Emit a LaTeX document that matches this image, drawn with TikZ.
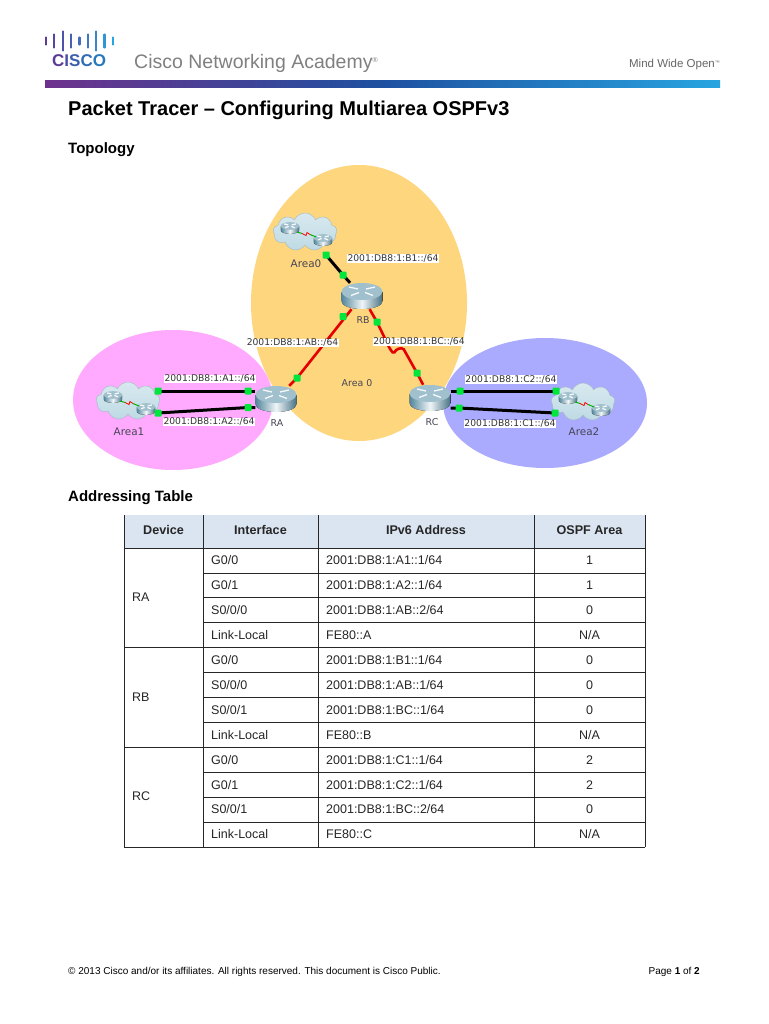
\documentclass[tikz,border=0pt]{standalone}
\usepackage{fontspec}
\setmainfont{Liberation Sans}
\newfontfamily\labelfont{DejaVu Sans}
\usetikzlibrary{shapes,positioning}
\definecolor{orange2}{RGB}{254,214,125}
\definecolor{pink2}{RGB}{255,170,254}
\definecolor{blue2}{RGB}{170,170,254}
\definecolor{head2}{RGB}{219,229,241}
\definecolor{port2}{RGB}{0,230,60}
\definecolor{cloud2}{RGB}{190,218,228}
\definecolor{label2}{RGB}{70,70,85}
\definecolor{router2}{RGB}{82,134,156}
\definecolor{routertop}{RGB}{160,192,205}
\definecolor{bar1}{RGB}{110,50,140}
\definecolor{bar2}{RGB}{30,80,160}
\definecolor{bar3}{RGB}{40,165,225}
\definecolor{logo1}{RGB}{90,60,150}
\definecolor{logo2}{RGB}{40,120,190}
\tikzset{
  port/.style={fill=port2,inner sep=0pt,minimum size=7pt,rounded corners=1pt},
  addr/.style={fill=white,inner sep=0.6pt,font=\labelfont\fontsize{9.2}{10}\selectfont,text=black!80},
  devname/.style={inner sep=0pt,font=\labelfont\fontsize{9.4}{10}\selectfont,text=label2},
  cloudname/.style={inner sep=0pt,font=\labelfont\fontsize{10.4}{11}\selectfont,text=label2},
  routernode/.style={inner sep=0pt,minimum width=41pt,minimum height=26pt},
  ethlink/.style={line width=3pt,black},
  seriallink/.style={line width=2.6pt,red!90!black,rounded corners=1.5pt},
  cell/.style={inner sep=0pt,anchor=base west,font=\fontsize{12.5}{14}\selectfont,text=black!85},
  headcell/.style={inner sep=0pt,anchor=base,font=\bfseries\fontsize{12.6}{14}\selectfont,text=black!85},
  heading/.style={inner sep=0pt,anchor=base west,font=\bfseries\fontsize{15}{17}\selectfont},
  pics/routerpic/.style={code={
    \fill[left color=router2,right color=router2!85!black,middle color=white!85!routertop]
      (-20.5,-4) -- (-20.5,5) .. controls (-20.5,10) and (-11,13) .. (0,13)
      .. controls (11,13) and (20.5,10) .. (20.5,5) -- (20.5,-4) -- cycle;
    \fill[routertop] (0,-4.5) ellipse [x radius=20.5pt,y radius=8.5pt];
    \draw[white!90!routertop,line width=1.3pt] (-13,-9) -- (-4,-7) (13,-9) -- (4,-7) (-11,-0.5) -- (-3,-3.5) (11,-0.5) -- (3,-3.5);
  }},
  pics/cloudpic/.style={code={
    \node[cloud,cloud puffs=9,cloud puff arc=130,aspect=1.7,top color=cloud2!60!white,bottom color=cloud2,draw=cloud2!85!black,inner sep=0pt,minimum width=64pt,minimum height=38pt] (-cloud) at (0,0) {};
    \pic[scale=0.45] at (-15,-4) {routerpic};
    \pic[scale=0.45] at (18,8) {routerpic};
    \draw[green!70!black,line width=1pt] (-8,0) -- (-3,1.5) (5,2.5) -- (11,5);
    \draw[red,line width=0.8pt] (-3,1.5) -- (1,3.5) -- (2,0.5) -- (5,2.5);
  }}
}

\begin{document}
\begin{tikzpicture}[x=1pt,y=-1pt]
	\newcommand \rowstart{548}
	\newcommand \rowheight{24.92}
	\newcommand \tabletop{515}
	\newcommand \tableleft{124}
	\newcommand \tableright{645}

\useasboundingbox (0,0) rectangle (768,1024);
\fill[white] (0,0) rectangle (768,1024);

%% Header:
\foreach \b/\h/\c in {0/7/0,1/13/10,2/19/22,3/13/34,4/7/46,5/13/58,6/19/70,7/13/85,8/7/100}
{
\draw[bar3!\c!logo1,line width=2.2pt,line cap=round] ({46+\b*8.35},{41-\h/2}) -- ({46+\b*8.35},{41+\h/2});
}
\node[inner sep=0pt,anchor=base west,font=\bfseries\fontsize{17}{18}\selectfont\addfontfeature{LetterSpace=8}] (ciscoword) at (52,67)
  {\textcolor{logo1}{C}\textcolor{logo1!70!logo2}{I}\textcolor{logo1!40!logo2}{S}\textcolor{logo2!80!logo1}{C}\textcolor{logo2}{O}};
\node[inner sep=0pt,anchor=base west,text=black!50,font=\fontsize{19.5}{22}\selectfont] (academy) at (134,69) {Cisco Networking Academy\raisebox{6pt}{\fontsize{7}{7}\selectfont ®}};
\node[inner sep=0pt,anchor=base east,text=black!60,font=\fontsize{11.5}{12}\selectfont] (slogan) at (720,68) {Mind Wide Open\raisebox{3pt}{\fontsize{5}{5}\selectfont ™}};
\shade[left color=bar1,right color=bar3,middle color=bar2] (45,80.5) rectangle (720,87.5);

\node[inner sep=0pt,anchor=base west,font=\bfseries\fontsize{20}{22}\selectfont] (title) at (68,116) {Packet Tracer – Configuring Multiarea OSPFv3};
\node[heading] (topology) at (68,153.5) {Topology};
\node[heading] (addressing) at (68,501.5) {Addressing Table};

%% Areas:
\fill[orange2] (359,303) ellipse [x radius=108pt,y radius=138pt];
\fill[pink2] (173,400) ellipse [x radius=100pt,y radius=70pt];
\fill[blue2] (545,403) ellipse [x radius=102pt,y radius=65pt];

\node[routernode] (RA) at (276,399) {};
\node[routernode] (RB) at (362,296) {};
\node[routernode] (RC) at (430,398) {};
\pic (area0) at (305,232) {cloudpic};
\pic (area1) at (128,401) {cloudpic};
\pic (area2) at (583,402) {cloudpic};

\foreach \p/\x/\y in {bz/326/255,bb/343/275,br/343/316.5,ar/297/378,bc/377/322,cb/417/373,
  aa/158/391,ac/248/391,ad/158/413,ae/248/407.5,ca/460/391,cc/556/391,cd/459/408,ce/555/413}
{
\coordinate (link\p) at (\x,\y);
}
\coordinate (wigglea) at (390,349);
\coordinate (wiggleb) at (393.5,353.5);
\coordinate (wigglec) at (397,349);
\coordinate (wiggled) at (403,348);

\draw[ethlink] (linkbz) -- (linkbb) -- (RB);
\draw[seriallink] (RB) -- (linkar) -- (RA);
\draw[seriallink] (RB) -- (linkbc) -- (wigglea) -- (wiggleb) -- (wigglec) -- (wiggled) -- (linkcb) -- (RC);
\draw[ethlink] (linkaa) -- (linkac) -- (RA.west |- linkac);
\draw[ethlink] (linkad) -- (linkae) -- (RA.west |- linkae);
\draw[ethlink] (RC.east |- linkca) -- (linkca) -- (linkcc);
\draw[ethlink] (RC.east |- linkcd) -- (linkcd) -- (linkce);
\foreach \p in {bz,bb,br,ar,bc,cb,aa,ac,ad,ae,ca,cc,cd,ce}
{
\node[port] (port\p) at (link\p) {};
}
\pic at (RA) {routerpic};
\pic at (RB) {routerpic};
\pic at (RC) {routerpic};

%% Labels:
\node[addr] (labelb) at (393,258.5) {2001:DB8:1:B1::/64};
\node[addr] (labelab) at (292.5,343) {2001:DB8:1:AB::/64};
\node[addr] (labelbc) at (419,342) {2001:DB8:1:BC::/64};
\node[addr] (labela) at (210,379) {2001:DB8:1:A1::/64};
\node[addr] (labelaa) at (209,422) {2001:DB8:1:A2::/64};
\node[addr] (labelc) at (511,379.5) {2001:DB8:1:C2::/64};
\node[addr] (labelcc) at (510,424) {2001:DB8:1:C1::/64};
\node[devname] (nameb) at (363,320) {RB};
\node[devname] (namea) at (277,423) {RA};
\node[devname] (namec) at (432,422.5) {RC};
\node[devname] (namezero) at (357,383.5) {Area 0};
\node[cloudname] (namearea0) at (306,263.5) {Area0};
\node[cloudname] (namearea1) at (129,432) {Area1};
\node[cloudname] (namearea2) at (584,432) {Area2};

%% Table:
\fill[head2] (\tableleft,\tabletop) rectangle (\tableright,\rowstart);
\foreach \a in {1,...,12}
{
\draw[black!85,line width=0.7pt] (203,{\rowstart+\a*\rowheight}) -- (\tableright,{\rowstart+\a*\rowheight});
}
\foreach \a in {0,4,8,12}
{
\draw[black!85,line width=0.7pt] (\tableleft,{\rowstart+\a*\rowheight}) -- (\tableright,{\rowstart+\a*\rowheight});
}
\foreach \x in {\tableleft,203,318,534,\tableright}
{
\draw[black!85,line width=0.7pt] (\x,\tabletop) -- (\x,{\rowstart+12*\rowheight});
}
\node[headcell] (headdevice) at (163.5,534.5) {Device};
\node[headcell] (headintf) at (260.5,534.5) {Interface};
\node[headcell] (headaddr) at (426,534.5) {IPv6 Address};
\node[headcell] (headarea) at (589.5,534.5) {OSPF Area};
\node[cell] (devRA) at (132,{\rowstart+2*\rowheight+3.6}) {RA};
\node[cell] (devRB) at (132,{\rowstart+6*\rowheight+3.6}) {RB};
\node[cell] (devRC) at (132,{\rowstart+10*\rowheight+3.6}) {RC};
\foreach \r/\i/\ip/\ar in {0/{G0/0}/2001:DB8:1:A1::1{/}64/1,1/{G0/1}/2001:DB8:1:A2::1{/}64/1,2/{S0/0/0}/2001:DB8:1:AB::2{/}64/0,3/Link-Local/FE80::A/N{/}A,
  4/{G0/0}/2001:DB8:1:B1::1{/}64/0,5/{S0/0/0}/2001:DB8:1:AB::1{/}64/0,6/{S0/0/1}/2001:DB8:1:BC::1{/}64/0,7/Link-Local/FE80::B/N{/}A,
  8/{G0/0}/2001:DB8:1:C1::1{/}64/2,9/{G0/1}/2001:DB8:1:C2::1{/}64/2,10/{S0/0/1}/2001:DB8:1:BC::2{/}64/0,11/Link-Local/FE80::C/N{/}A}
{
\node[cell] (intf\r) at (211,{\rowstart+(\r+0.5)*\rowheight+4.3}) {\i};
\node[cell] (ip\r) at (326,{\rowstart+(\r+0.5)*\rowheight+4.3}) {\ip};
\node[cell,anchor=base] (area\r) at (589.5,{\rowstart+(\r+0.5)*\rowheight+4.3}) {\ar};
}

%% Footer:
\node[inner sep=0pt,anchor=base west,font=\fontsize{10}{12}\selectfont] (copyright) at (68,974) {© 2013 Cisco and/or its affiliates. All rights reserved. This document is Cisco Public.};
\node[inner sep=0pt,anchor=base east,font=\fontsize{10}{12}\selectfont] (pagenum) at (700,974) {Page \textbf{1} of \textbf{2}};
\end{tikzpicture}
\end{document}
